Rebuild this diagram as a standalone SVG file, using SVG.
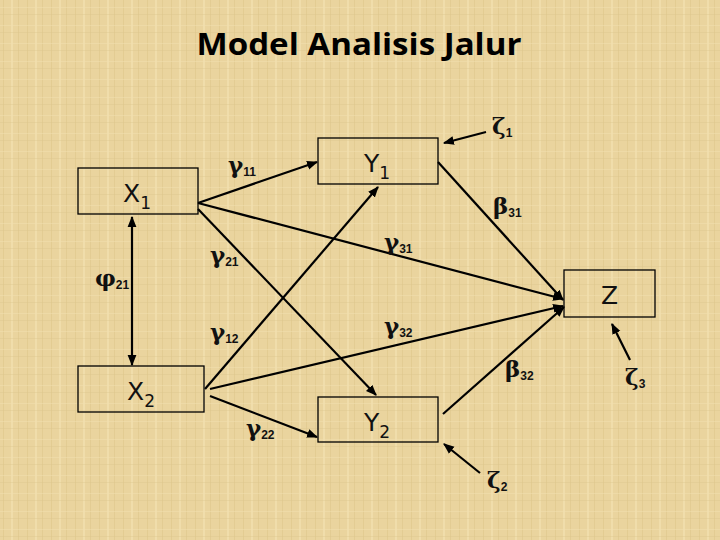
<svg xmlns="http://www.w3.org/2000/svg" width="720" height="540" viewBox="0 0 720 540">
<defs>
<style>
.box{fill:none;stroke:#000;stroke-width:1.3}
.ln{stroke:#000;stroke-width:2.2;fill:none}
.lbl{font-family:"DejaVu Sans",Verdana,sans-serif;font-size:25px;fill:#111}
.sub{font-size:17px}
.gr{font-family:"DejaVu Serif","Liberation Serif",serif;font-size:23px;font-weight:bold;fill:#111}
.gs{font-family:"Liberation Sans",Arial,sans-serif;font-size:12px;font-weight:bold}
.title{font-family:"Open Sans","Liberation Sans",sans-serif;font-size:31px;font-weight:bold;fill:#000}
</style>
<marker id="ah" viewBox="0 0 10 10" refX="9" refY="5" markerWidth="5" markerHeight="5" orient="auto-start-reverse" markerUnits="strokeWidth">
<path d="M0,1 L10,5 L0,9 z" fill="#000"/>
</marker>
<pattern id="tex" width="24" height="18" patternUnits="userSpaceOnUse">
<rect width="24" height="18" fill="#EAD49E"/>
<rect x="3" width="1" height="18" fill="#DEC68A" opacity="0.6"/>
<rect x="11" width="2" height="18" fill="#F3E2B4" opacity="0.6"/>
<rect x="18" width="1" height="18" fill="#DCC387" opacity="0.5"/>
<rect y="7" width="24" height="1" fill="#F2E0B0" opacity="0.5"/>
<rect y="14" width="24" height="1" fill="#DDC58B" opacity="0.4"/>
</pattern>
</defs>
<rect width="720" height="540" fill="url(#tex)"/>
<text class="title" x="359" y="55" text-anchor="middle" textLength="325" lengthAdjust="spacingAndGlyphs">Model Analisis Jalur</text>

<g id="connectors">
<line class="ln" x1="198" y1="203" x2="317" y2="162" marker-end="url(#ah)"/>
<line class="ln" x1="198" y1="203" x2="563" y2="299" marker-end="url(#ah)"/>
<line class="ln" x1="198" y1="209" x2="376" y2="395" marker-end="url(#ah)"/>
<line class="ln" x1="205" y1="389" x2="378" y2="187" marker-end="url(#ah)"/>
<line class="ln" x1="210" y1="389" x2="563" y2="306" marker-end="url(#ah)"/>
<line class="ln" x1="210" y1="396" x2="317" y2="437" marker-end="url(#ah)"/>
<line class="ln" x1="438" y1="162" x2="563" y2="300" marker-end="url(#ah)"/>
<line class="ln" x1="443" y1="414" x2="564" y2="307" marker-end="url(#ah)"/>
<line class="ln" x1="486" y1="132" x2="444" y2="143" marker-end="url(#ah)"/>
<line class="ln" x1="480" y1="473" x2="444" y2="444" marker-end="url(#ah)"/>
<line class="ln" x1="630" y1="360" x2="612" y2="324" marker-end="url(#ah)"/>
<line class="ln" x1="132" y1="217" x2="132" y2="365" marker-start="url(#ah)" marker-end="url(#ah)"/>
</g>

<g id="X1"><rect class="box" x="78" y="168" width="120" height="46"/><text class="lbl" x="123" y="202">X<tspan class="sub" dy="7">1</tspan></text></g>
<g id="Y1"><rect class="box" x="318" y="138" width="120" height="46"/><text class="lbl" x="364" y="172">Y<tspan class="sub" dy="7">1</tspan></text></g>
<g id="Z"><rect class="box" x="564" y="270" width="91" height="47"/><text class="lbl" x="601" y="304">Z</text></g>
<g id="X2"><rect class="box" x="78" y="366" width="126" height="46"/><text class="lbl" x="127" y="400">X<tspan class="sub" dy="7">2</tspan></text></g>
<g id="Y2"><rect class="box" x="318" y="397" width="120" height="45"/><text class="lbl" x="364" y="431">Y<tspan class="sub" dy="7">2</tspan></text></g>

<g id="labels">
<text class="gr" x="228" y="173">γ<tspan class="gs" dy="3">11</tspan></text>
<text class="gr" x="210" y="263">γ<tspan class="gs" dy="3">21</tspan></text>
<text class="gr" x="95" y="286">φ<tspan class="gs" dy="3">21</tspan></text>
<text class="gr" x="384" y="250">γ<tspan class="gs" dy="3">31</tspan></text>
<text class="gr" x="493" y="214">β<tspan class="gs" dy="3">31</tspan></text>
<text class="gr" x="384" y="334">γ<tspan class="gs" dy="3">32</tspan></text>
<text class="gr" x="210" y="340">γ<tspan class="gs" dy="3">12</tspan></text>
<text class="gr" x="505" y="377">β<tspan class="gs" dy="3">32</tspan></text>
<text class="gr" x="246" y="436">γ<tspan class="gs" dy="3">22</tspan></text>
<text class="gr" x="492" y="134">ζ<tspan class="gs" dy="3">1</tspan></text>
<text class="gr" x="487" y="488">ζ<tspan class="gs" dy="3">2</tspan></text>
<text class="gr" x="625" y="385">ζ<tspan class="gs" dy="3">3</tspan></text>
</g>
</svg>
